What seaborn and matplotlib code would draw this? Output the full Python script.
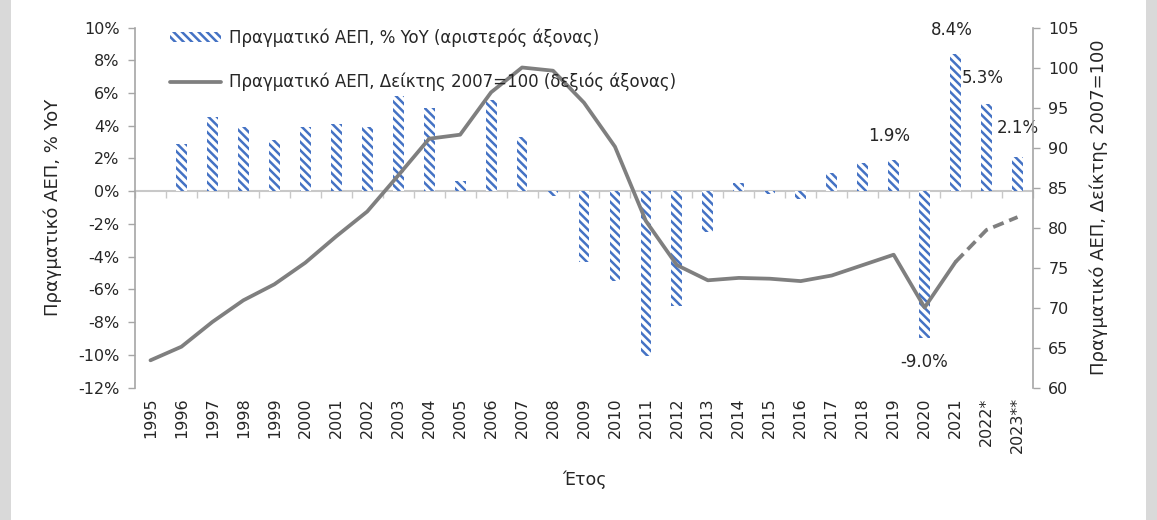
import numpy as np
import pandas as pd
import matplotlib
matplotlib.use('Agg')
import matplotlib.pyplot as plt
import seaborn as sns
from matplotlib.patches import Patch
from matplotlib.lines import Line2D

# data
years = ['1995', '1996', '1997', '1998', '1999', '2000', '2001', '2002', '2003', '2004',
         '2005', '2006', '2007', '2008', '2009', '2010', '2011', '2012', '2013', '2014',
         '2015', '2016', '2017', '2018', '2019', '2020', '2021', '2022*', '2023**']
gdp_yoy = [np.nan, 2.9, 4.5, 3.9, 3.1, 3.9, 4.1, 3.9, 5.8, 5.1,
           0.6, 5.6, 3.3, -0.3, -4.3, -5.5, -10.1, -7.0, -2.5, 0.5,
           -0.2, -0.5, 1.1, 1.7, 1.9, -9.0, 8.4, 5.3, 2.1]
gdp_index = [63.4, 65.1, 68.2, 70.9, 72.9, 75.6, 78.9, 82.0, 86.5, 91.1,
             91.6, 96.9, 100.0, 99.6, 95.6, 90.1, 80.8, 75.3, 73.4, 73.7,
             73.6, 73.3, 74.0, 75.3, 76.6, 70.0, 75.7, 79.7, 81.3]
left_ticks = list(range(-12, 11, 2))
right_ticks = list(range(60, 106, 5))
legend_bar = 'Πραγματικό ΑΕΠ, % YoY (αριστερός άξονας)'
legend_line = 'Πραγματικό ΑΕΠ, Δείκτης 2007=100 (δεξιός άξονας)'
ylabel_left = 'Πραγματικό ΑΕΠ, % YoY'
ylabel_right = 'Πραγματικό ΑΕΠ, Δείκτης 2007=100'
xlabel = 'Έτος'

sns.set_theme(style='white')
plt.rcParams['font.family'] = ['DejaVu Sans']
plt.rcParams['hatch.linewidth'] = 1.8
plt.rcParams['hatch.color'] = '#4472C4'

BLUE = '#4472C4'
GREY = '#7F7F7F'
AXC = '#A6A6A6'
TXT = '#262626'
HATCH = '\\\\\\\\'

df = pd.DataFrame({'year': years, 'yoy': gdp_yoy, 'idx': gdp_index})
df['pos'] = np.arange(len(df))

fig = plt.figure(figsize=(11.57, 5.2), dpi=100, facecolor='white')
# grey side strips
for x0 in (0, 1 - 11 / 1157):
    fig.patches.append(plt.Rectangle((x0, 0), 11 / 1157, 1, transform=fig.transFigure,
                                     facecolor='#D9D9D9', edgecolor='none', zorder=-10))
ax = fig.add_axes([135 / 1157, 1 - 387.5 / 520, (1033 - 135) / 1157, (387.5 - 27.5) / 520])
ax.set_facecolor('none')

sns.barplot(data=df, x='year', y='yoy', color='white', width=0.35, linewidth=0,
            edgecolor=BLUE, ax=ax, zorder=2)
for p in ax.patches:
    p.set_hatch(HATCH)
    p.set_edgecolor(BLUE)
    p.set_linewidth(0)

ax.set_ylim(-12, 10)
ax.set_xlim(-0.5, len(years) - 0.5)
ax.set_yticks(left_ticks)
ax.set_yticklabels([f'{t}%' for t in left_ticks])
ax.set_xticks(df['pos'])
ax.set_xticklabels(years, rotation=90)
ax.tick_params(axis='x', length=0, labelsize=11.5, colors=TXT, pad=7)
ax.tick_params(axis='y', length=5, width=1, color=AXC, labelsize=11.5, labelcolor=TXT, pad=6, direction='out')
for s in ['top', 'bottom', 'right']:
    ax.spines[s].set_visible(False)
ax.spines['left'].set_color(AXC)
ax.spines['left'].set_linewidth(1.2)
ax.set_ylabel(ylabel_left, fontsize=13, color=TXT, labelpad=12)
ax.set_xlabel(xlabel, fontsize=12.5, color=TXT, labelpad=12)

# category axis drawn at 0%
zero_frac = (0 - (-12)) / 22
sec = ax.secondary_xaxis(zero_frac)
sec.set_alignment('bottom')
sec.set_xticks(np.arange(-0.5, len(years), 1))
sec.set_xticklabels([])
sec.tick_params(axis='x', length=5, width=1, color='#C8C8C8', direction='out')
sec.spines['bottom'].set_visible(True)
sec.spines['bottom'].set_color('#C8C8C8')
sec.spines['bottom'].set_linewidth(1.5)
sec.spines['top'].set_visible(False)

ax2 = ax.twinx()
solid = df[df['pos'] <= 26]
dashed = df[df['pos'] >= 26]
sns.lineplot(data=solid, x='pos', y='idx', color=GREY, linewidth=2.7, ax=ax2, zorder=3)
sns.lineplot(data=dashed, x='pos', y='idx', color=GREY, linewidth=2.7, ax=ax2, zorder=3,
             linestyle=(0, (3, 1.6)))
ax2.set_ylim(60, 105)
ax2.set_xlim(-0.5, len(years) - 0.5)
ax2.set_yticks(right_ticks)
ax2.tick_params(axis='y', length=5, width=1, color=AXC, labelsize=11.5, labelcolor=TXT, pad=6, direction='out')
for s in ['top', 'bottom', 'left']:
    ax2.spines[s].set_visible(False)
ax2.spines['right'].set_color(AXC)
ax2.spines['right'].set_linewidth(1.2)
ax2.set_ylabel(ylabel_right, fontsize=13, color=TXT, labelpad=8)
ax2.set_xlabel('')

# data labels
def lab(i, dx, dy):
    ax.annotate(f'{gdp_yoy[i]:.1f}%', (i, gdp_yoy[i]), xytext=(dx, dy), textcoords='offset points',
                ha='center', va='center', fontsize=12, color=TXT)

lab(years.index('2019'), -3, 17)
lab(years.index('2021'), -3, 17)
lab(years.index('2022*'), -3, 19)
lab(years.index('2023**'), 0, 21)
lab(years.index('2020'), 0, -17)

handles = [Patch(facecolor='white', edgecolor=BLUE, hatch=HATCH, linewidth=0),
           Line2D([], [], color=GREY, linewidth=2.7)]
leg = ax2.legend(handles, [legend_bar, legend_line], loc='upper left',
                 bbox_to_anchor=(0.022, 1.039), frameon=False, fontsize=12,
                 handlelength=3.1, handleheight=0.6, labelspacing=1.55, handletextpad=0.45)
for t in leg.get_texts():
    t.set_color(TXT)

fig.savefig('out.png', dpi=100, facecolor=fig.get_facecolor())
